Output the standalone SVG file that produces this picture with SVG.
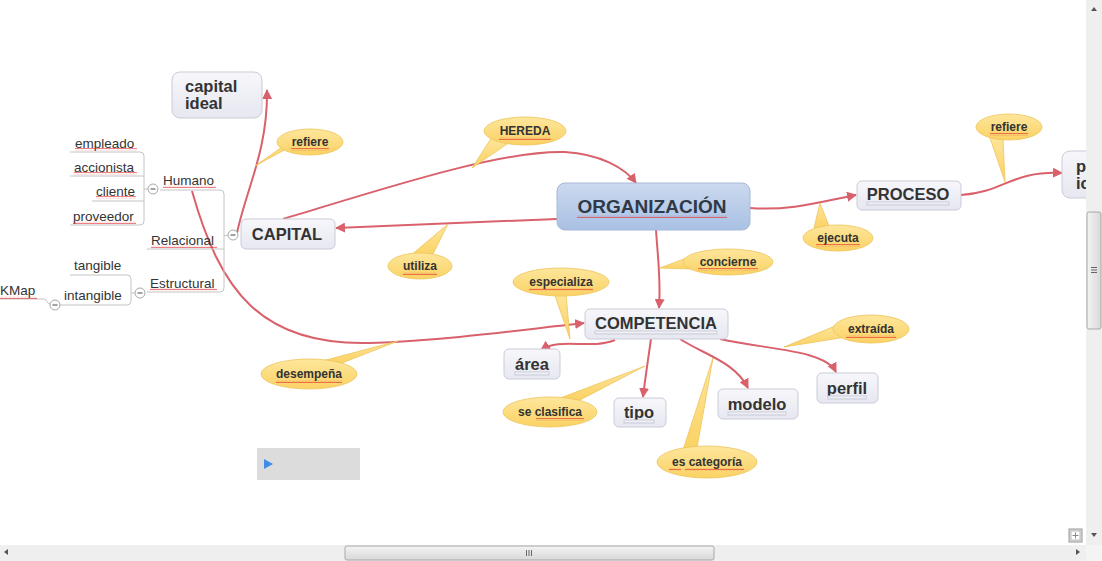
<svg xmlns="http://www.w3.org/2000/svg" width="1102" height="561" viewBox="0 0 1102 561">
<defs>
<linearGradient id="gNode" x1="0" y1="0" x2="0" y2="1"><stop offset="0" stop-color="#f7f7fb"/><stop offset="1" stop-color="#e6e7f0"/></linearGradient>
<linearGradient id="gOrg" x1="0" y1="0" x2="0" y2="1"><stop offset="0" stop-color="#cbd9ee"/><stop offset="1" stop-color="#a9c1e4"/></linearGradient>
<linearGradient id="gCall" x1="0" y1="0" x2="0" y2="1"><stop offset="0" stop-color="#fde69c"/><stop offset="1" stop-color="#fbd264"/></linearGradient>
<linearGradient id="gThumb" x1="0" y1="0" x2="0" y2="1"><stop offset="0" stop-color="#f4f4f4"/><stop offset="1" stop-color="#d8d8d8"/></linearGradient>
<linearGradient id="gThumbV" x1="0" y1="0" x2="1" y2="0"><stop offset="0" stop-color="#f4f4f4"/><stop offset="1" stop-color="#d8d8d8"/></linearGradient>
<pattern id="sq" width="4" height="3" patternUnits="userSpaceOnUse"><polyline points="0,2.2 1,0.8 2,2.2 3,0.8 4,2.2" fill="none" stroke="#e02828" stroke-width="0.6"/></pattern>
<marker id="arr" viewBox="0 0 10 10" refX="9" refY="5" markerWidth="5" markerHeight="5" orient="auto" markerUnits="strokeWidth"><path d="M0,0 L10,5 L0,10 z" fill="#d9616b"/></marker>
</defs>
<style>
.node rect{fill:url(#gNode);stroke:#c9ccd8;stroke-width:1}
.nt{font-family:"Liberation Sans",Arial,sans-serif;font-weight:bold;font-size:16.5px;fill:#333;text-anchor:middle}
.call ellipse,.call path{fill:url(#gCall);stroke:#edc45a;stroke-width:0.8}
.ct{font-family:"Liberation Sans",Arial,sans-serif;font-weight:bold;font-size:12px;fill:#333;text-anchor:middle}
.conn path{fill:none;stroke:#d9616b;stroke-width:2}
.tree path,.tree line{fill:none;stroke:#c4c4c4;stroke-width:1}
.tt{font-family:"Liberation Sans",Arial,sans-serif;font-size:13.5px;fill:#333}
.btn circle{fill:#fff;stroke:#a8a8a8;stroke-width:1}
.btn line{stroke:#444;stroke-width:1}
.sq{fill:url(#sq)}
</style>
<rect width="1102" height="561" fill="#fff"/>

<g id="connectors" class="conn">
<path d="M557,219 C480,222 400,225 336,228" marker-end="url(#arr)"/>
<path d="M283,219 C380,190 500,150 565,152 C600,154 625,168 636,183" marker-end="url(#arr)"/>
<path d="M237,233 C246,190 268,150 267,90" marker-end="url(#arr)"/>
<path d="M750,208 C790,211 820,202 856,195" marker-end="url(#arr)"/>
<path d="M961,195 C1005,192 1010,171 1062,173" marker-end="url(#arr)"/>
<path d="M656,230 C658,260 661,280 659,308" marker-end="url(#arr)"/>
<path d="M192,191 C220,290 260,346 370,343 C450,340 520,330 584,323" marker-end="url(#arr)"/>
<path d="M615,340 C590,350 560,337 541,350" marker-end="url(#arr)"/>
<path d="M651,339 C648,360 645,380 643,397" marker-end="url(#arr)"/>
<path d="M680,339 C705,355 735,362 748,388" marker-end="url(#arr)"/>
<path d="M720,339 C770,350 825,350 836,372" marker-end="url(#arr)"/>
</g>

<g id="tree" class="tree">
<line x1="160" y1="190" x2="220" y2="190"/>
<path d="M220,190 Q224,190 224,194 L224,288 Q224,292 220,292"/>
<line x1="147" y1="249" x2="224" y2="249"/>
<line x1="147" y1="292" x2="220" y2="292"/>
<line x1="224" y1="236" x2="228" y2="235"/>
<line x1="70" y1="152" x2="140" y2="152"/>
<path d="M140,152 Q144,152 144,156 L144,221 Q144,225 140,225"/>
<line x1="70" y1="176" x2="144" y2="176"/>
<line x1="92" y1="201" x2="144" y2="201"/>
<line x1="70" y1="225" x2="140" y2="225"/>
<line x1="144" y1="189" x2="148" y2="189"/>
<line x1="70" y1="275" x2="127" y2="275"/>
<path d="M127,275 Q131,275 131,279 L131,301 Q131,305 127,305"/>
<line x1="60" y1="305" x2="127" y2="305"/>
<line x1="131" y1="293" x2="135" y2="293"/>
<path d="M0,299 L44,299 Q46,299 48,303 L50,304"/>
</g>
<g id="tree-labels">
<text class="tt" x="75" y="148">empleado</text>
<text class="tt" x="74" y="172">accionista</text>
<text class="tt" x="96" y="196">cliente</text>
<text class="tt" x="73" y="221">proveedor</text>
<text class="tt" x="163" y="185">Humano</text>
<text class="tt" x="151" y="245">Relacional</text>
<text class="tt" x="150" y="288">Estructural</text>
<text class="tt" x="74" y="270">tangible</text>
<text class="tt" x="64" y="300">intangible</text>
<text class="tt" x="0" y="295">KMap</text>
<rect class="sq" x="75" y="148" width="62" height="3"/>
<rect class="sq" x="74" y="172" width="63" height="3"/>
<rect class="sq" x="96" y="196" width="40" height="3"/>
<rect class="sq" x="73" y="221" width="63" height="3"/>
<rect class="sq" x="163" y="185" width="53" height="3"/>
<rect class="sq" x="151" y="245" width="66" height="3"/>
<rect class="sq" x="150" y="288" width="67" height="3"/>
<rect class="sq" x="0" y="296" width="37" height="3"/>
</g>
<g id="buttons" class="btn">
<circle cx="233" cy="235" r="5"/><line x1="230.5" y1="235" x2="235.5" y2="235"/>
<circle cx="153" cy="189" r="5"/><line x1="150.5" y1="189" x2="155.5" y2="189"/>
<circle cx="140" cy="293" r="5"/><line x1="137.5" y1="293" x2="142.5" y2="293"/>
<circle cx="55" cy="305" r="5"/><line x1="52.5" y1="305" x2="57.5" y2="305"/>
</g>

<g id="n-capital-ideal" class="node"><rect x="172" y="72" width="90" height="46" rx="8"/>
<text class="nt" x="185" y="92" style="text-anchor:start">capital</text><text class="nt" x="185" y="109" style="text-anchor:start">ideal</text></g>
<g id="n-organizacion"><rect x="557" y="183" width="193" height="47" rx="8" fill="url(#gOrg)" stroke="#a7b9d6"/>
<text class="nt" x="652" y="213" style="font-size:19px;fill:#2f3947">ORGANIZACIÓN</text>
<rect class="sq" x="577" y="215" width="150" height="3"/></g>
<g id="n-proceso" class="node"><rect x="857" y="181" width="104" height="29" rx="5"/>
<text class="nt" x="908" y="200">PROCESO</text><rect class="sq" x="867" y="202" width="82" height="3"/></g>
<g id="n-partial" class="node"><rect x="1062" y="151" width="40" height="47" rx="8"/>
<text class="nt" x="1076" y="172" style="text-anchor:start">p</text><text class="nt" x="1076" y="189" style="text-anchor:start">ic</text></g>
<g id="n-capital" class="node"><rect x="241" y="219" width="94" height="30" rx="5"/>
<text class="nt" x="287" y="240">CAPITAL</text></g>
<g id="n-competencia" class="node"><rect x="585" y="309" width="143" height="30" rx="5"/>
<text class="nt" x="656" y="329">COMPETENCIA</text><rect class="sq" x="595" y="331" width="122" height="3"/></g>
<g id="n-area" class="node"><rect x="504" y="349" width="56" height="30" rx="5"/>
<text class="nt" x="532" y="370">área</text><rect class="sq" x="515" y="372" width="34" height="3"/></g>
<g id="n-tipo" class="node"><rect x="614" y="398" width="52" height="29" rx="5"/>
<text class="nt" x="639" y="418">tipo</text><rect class="sq" x="624" y="420" width="30" height="3"/></g>
<g id="n-modelo" class="node"><rect x="718" y="389" width="80" height="30" rx="5"/>
<text class="nt" x="757" y="410">modelo</text><rect class="sq" x="728" y="412" width="58" height="3"/></g>
<g id="n-perfil" class="node"><rect x="817" y="373" width="61" height="30" rx="5"/>
<text class="nt" x="847" y="394">perfil</text><rect class="sq" x="828" y="396" width="38" height="3"/></g>

<g id="c-refiere1" class="call"><path d="M255,166 L288,148 L302,133 Z"/><ellipse cx="310" cy="142" rx="33" ry="13"/>
<text class="ct" x="310" y="146">refiere</text><rect class="sq" x="291" y="148" width="38" height="3"/></g>
<g id="c-hereda" class="call"><path d="M472,168 L492,137 L510,142 Z"/><ellipse cx="525" cy="131" rx="41" ry="14"/>
<text class="ct" x="525" y="135">HEREDA</text><rect class="sq" x="499" y="137" width="52" height="3"/></g>
<g id="c-utiliza" class="call"><path d="M448,224 L410,256 L432,256 Z"/><ellipse cx="420" cy="266" rx="32" ry="13"/>
<text class="ct" x="420" y="270">utiliza</text><rect class="sq" x="403" y="272" width="34" height="3"/></g>
<g id="c-especializa" class="call"><path d="M570,339 L553,290 L566,294 Z"/><ellipse cx="561" cy="282" rx="48" ry="14"/>
<text class="ct" x="561" y="286">especializa</text><rect class="sq" x="529" y="288" width="64" height="3"/></g>
<g id="c-concierne" class="call"><path d="M660,268 L689,257 L692,269 Z"/><ellipse cx="728" cy="262" rx="45" ry="13"/>
<text class="ct" x="728" y="266">concierne</text><rect class="sq" x="698" y="268" width="60" height="3"/></g>
<g id="c-desempena" class="call"><path d="M398,341 L322,361 L342,363 Z"/><ellipse cx="309" cy="374" rx="48" ry="15"/>
<text class="ct" x="309" y="378">desempeña</text><rect class="sq" x="276" y="380" width="66" height="3"/></g>
<g id="c-seclasifica" class="call"><path d="M645,366 L555,400 L580,400 Z"/><ellipse cx="550" cy="412" rx="47" ry="15"/>
<text class="ct" x="550" y="416">se clasifica</text><rect class="sq" x="536" y="418" width="48" height="3"/></g>
<g id="c-escategoria" class="call"><path d="M713,358 L683,450 L697,448 Z"/><ellipse cx="707" cy="462" rx="50" ry="16"/>
<text class="ct" x="707" y="466">es categoría</text><rect class="sq" x="669" y="468" width="12" height="3"/><rect class="sq" x="685" y="468" width="59" height="3"/></g>
<g id="c-extraida" class="call"><path d="M784,347 L840,324 L846,337 Z"/><ellipse cx="871" cy="329" rx="38" ry="14"/>
<text class="ct" x="871" y="333">extraída</text><rect class="sq" x="846" y="335" width="50" height="3"/></g>
<g id="c-ejecuta" class="call"><path d="M820,203 L814,228 L829,226 Z"/><ellipse cx="838" cy="238" rx="35" ry="13"/>
<text class="ct" x="838" y="242">ejecuta</text><rect class="sq" x="816" y="244" width="44" height="3"/></g>
<g id="c-refiere2" class="call"><path d="M1005,182 L989,135 L1003,139 Z"/><ellipse cx="1009" cy="127" rx="33" ry="13"/>
<text class="ct" x="1009" y="131">refiere</text><rect class="sq" x="990" y="133" width="38" height="3"/></g>

<g id="player"><rect x="257" y="448" width="103" height="32" fill="#dcdcdc"/><path d="M264,459 L273,464 L264,469 Z" fill="#3d8ee8"/></g>

<g id="scrollbars">
<rect x="1086" y="0" width="16" height="545" fill="#efefef"/>
<rect x="1087" y="212" width="14" height="117" rx="2" fill="url(#gThumbV)" stroke="#a8a8a8"/>
<line x1="1091" y1="267.5" x2="1097" y2="267.5" stroke="#666"/><line x1="1091" y1="270" x2="1097" y2="270" stroke="#666"/><line x1="1091" y1="272.5" x2="1097" y2="272.5" stroke="#666"/>
<path d="M1091,11 L1097,11 L1094,7 Z" fill="#555"/>
<path d="M1091,533 L1097,533 L1094,537 Z" fill="#555"/>
<rect x="0" y="545" width="1086" height="16" fill="#efefef"/>
<rect x="1086" y="545" width="16" height="16" fill="#f4f4f4"/>
<rect x="345" y="546" width="369" height="14" rx="2" fill="url(#gThumb)" stroke="#a8a8a8"/>
<line x1="526.5" y1="550" x2="526.5" y2="556" stroke="#666"/><line x1="529" y1="550" x2="529" y2="556" stroke="#666"/><line x1="531.5" y1="550" x2="531.5" y2="556" stroke="#666"/>
<path d="M8,549 L8,555 L4,552 Z" fill="#555"/>
<path d="M1076,549 L1076,555 L1080,552 Z" fill="#555"/>
<rect x="1069" y="529" width="13" height="13" fill="#ddd" stroke="#999"/>
<rect x="1071" y="531" width="9" height="9" fill="#fff" stroke="#bbb"/>
<line x1="1072.5" y1="535.5" x2="1078.5" y2="535.5" stroke="#888"/><line x1="1075.5" y1="532.5" x2="1075.5" y2="538.5" stroke="#888"/>
</g>
</svg>
